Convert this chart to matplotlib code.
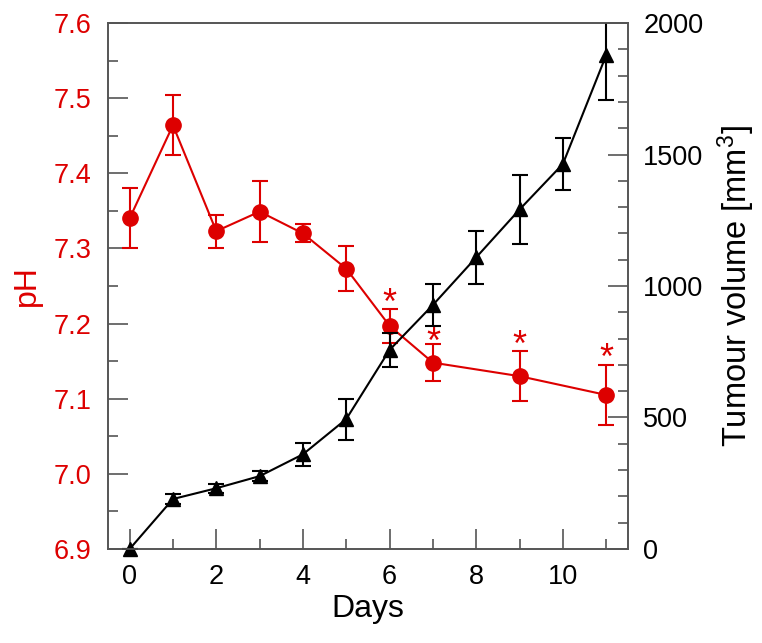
import matplotlib
matplotlib.use("Agg")
import matplotlib.pyplot as plt
from matplotlib.ticker import MultipleLocator

plt.rcParams['font.family'] = ['Liberation Sans', 'DejaVu Sans']
plt.rcParams['mathtext.fontset'] = 'custom'
plt.rcParams['mathtext.rm'] = 'Liberation Sans'
plt.rcParams['mathtext.it'] = 'Liberation Sans:italic'
plt.rcParams['mathtext.bf'] = 'Liberation Sans:bold'

# pH data (red)
ph_days = [0, 1, 2, 3, 4, 5, 6, 7, 9, 11]
ph_vals = [7.340, 7.464, 7.323, 7.349, 7.320, 7.273, 7.197, 7.148, 7.130, 7.105]
ph_err = [0.040, 0.040, 0.022, 0.041, 0.012, 0.030, 0.023, 0.025, 0.033, 0.040]

# significance markers
sig_days = [6, 7, 9, 11]
sig_y = [7.241, 7.188, 7.185, 7.167]

# tumour volume data (black)
vol_days = [0, 1, 2, 3, 4, 5, 6, 7, 8, 9, 10, 11]
vol_vals = [0, 190, 231, 277, 360, 494, 757, 928, 1109, 1291, 1464, 1878]
vol_err = [0, 19, 17, 20, 44, 78, 65, 80, 102, 130, 98, 170]

red = '#dd0000'
spine_col = '#555555'

fig = plt.figure(figsize=(7.62, 6.43), dpi=100)
ax = fig.add_axes([0.1417, 0.1462, 0.824 - 0.1417, 0.9642 - 0.1462])
ax2 = ax.twinx()

# pH series
ax.errorbar(ph_days, ph_vals, yerr=ph_err, fmt='none', ecolor=red,
            elinewidth=1.5, capsize=5.5, capthick=1.5)
ax.plot(ph_days, ph_vals, '-o', color=red, lw=1.5, ms=11, clip_on=False)
for d, y in zip(sig_days, sig_y):
    ax.annotate('*', (d, y), xytext=(0, -15), textcoords='offset points',
                ha='center', va='baseline', fontsize=26, color=red)

# volume series
ax2.errorbar(vol_days, vol_vals, yerr=vol_err, fmt='none', ecolor='black',
             elinewidth=1.5, capsize=5.5, capthick=1.5)
ax2.plot(vol_days, vol_vals, '-^', color='black', lw=1.5, ms=10.5, clip_on=False)

ax.set_xlim(-0.5, 11.5)
ax.set_ylim(6.9, 7.6)
ax2.set_ylim(0, 2000)

ax.xaxis.set_major_locator(MultipleLocator(2))
ax.xaxis.set_minor_locator(MultipleLocator(1))
ax.yaxis.set_minor_locator(MultipleLocator(0.05))
ax2.yaxis.set_major_locator(MultipleLocator(500))
ax2.yaxis.set_minor_locator(MultipleLocator(100))
ax.set_yticks([6.9, 7.0, 7.1, 7.2, 7.3, 7.4, 7.5, 7.6])
ax.set_yticklabels(['6.9', '7.0', '7.1', '7.2', '7.3', '7.4', '7.5', '7.6'])

for s in list(ax.spines.values()) + list(ax2.spines.values()):
    s.set_color(spine_col)
    s.set_linewidth(1.2)

ax.tick_params(axis='both', which='both', direction='in', color=spine_col,
               width=1.2, top=False, right=False, labelsize=19.5)
ax.tick_params(axis='both', which='major', length=14.5)
ax.tick_params(axis='both', which='minor', length=7.5)
ax.tick_params(axis='y', which='major', pad=12)
ax.tick_params(axis='x', which='major', pad=11)
ax.tick_params(axis='y', labelcolor=red)
ax2.tick_params(axis='y', which='both', direction='in', color=spine_col,
                width=1.2, labelsize=19.5, pad=11)
ax2.tick_params(axis='y', which='major', length=14.5)
ax2.tick_params(axis='y', which='minor', length=7.5)

ax.set_xlabel('Days', fontsize=23, labelpad=3)
ax.set_ylabel('pH', fontsize=23, color=red, labelpad=8)
ax2.set_ylabel('Tumour volume [mm$^{3}$]', fontsize=23.5, labelpad=9)

ax.set_zorder(1)
ax2.set_zorder(2)
ax2.patch.set_visible(False)

fig.savefig('out.png', dpi=100)
